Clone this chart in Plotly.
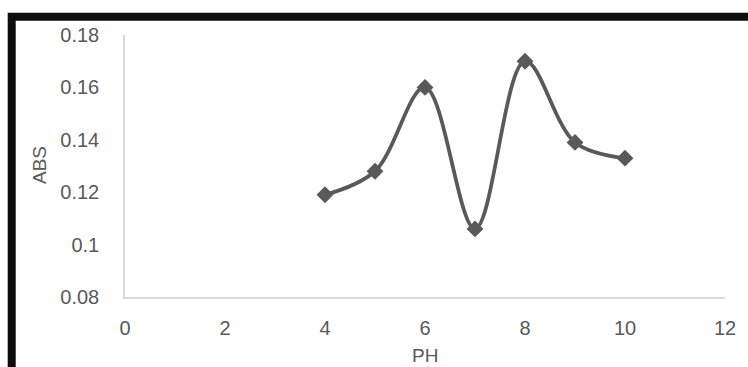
import plotly.graph_objects as go

ph = [4, 5, 6, 7, 8, 9, 10]
abs_vals = [0.119, 0.128, 0.160, 0.106, 0.170, 0.139, 0.133]

x_tick_vals = [0, 2, 4, 6, 8, 10, 12]
x_tick_text = ["0", "2", "4", "6", "8", "10", "12"]
y_tick_vals = [0.08, 0.10, 0.12, 0.14, 0.16, 0.18]
y_tick_text = ["0.08", "0.1", "0.12", "0.14", "0.16", "0.18"]

W, H = 748, 367
L, R, T, B = 125, 23, 35, 70
pw, ph_ = W - L - R, H - T - B

def px_x(px):
    return (px - L) / pw

def px_y(py):
    return (H - B - py) / ph_

font_family = "Liberation Sans, Arial, sans-serif"
txt_col = "#595959"

fig = go.Figure()
fig.add_trace(go.Scatter(
    x=ph, y=abs_vals, mode="lines+markers",
    line=dict(color="#595959", width=3.75, shape="spline", smoothing=1.0),
    marker=dict(symbol="diamond", size=13, color="#595959"),
    showlegend=False, cliponaxis=False,
))

fig.update_layout(
    width=W, height=H,
    margin=dict(l=L, r=R, t=T, b=B),
    paper_bgcolor="white", plot_bgcolor="white",
    font=dict(family=font_family, size=20, color=txt_col),
    xaxis=dict(range=[0, 12], tickvals=x_tick_vals, ticktext=x_tick_text,
               showgrid=False, zeroline=False, showline=True,
               linecolor="#d9d9d9", linewidth=1.5, ticks="",
               ticklabelstandoff=12, fixedrange=True),
    yaxis=dict(range=[0.08, 0.18], tickvals=y_tick_vals, ticktext=y_tick_text,
               showgrid=False, zeroline=False, showline=True,
               linecolor="#d9d9d9", linewidth=1.5, ticks="",
               ticklabelstandoff=20, fixedrange=True),
    annotations=[
        dict(text="ABS", x=px_x(39), y=px_y(165), xref="paper", yref="paper",
             showarrow=False, textangle=-90, xanchor="center", yanchor="middle",
             font=dict(size=19, color=txt_col, family=font_family)),
        dict(text="PH", x=px_x(425), y=px_y(355), xref="paper", yref="paper",
             showarrow=False, xanchor="center", yanchor="middle",
             font=dict(size=19, color=txt_col, family=font_family)),
    ],
    shapes=[
        dict(type="rect", xref="paper", yref="paper",
             x0=px_x(11.7), x1=px_x(800), y0=px_y(16.7), y1=px_y(450),
             line=dict(color="#0d0d0d", width=8), fillcolor="rgba(0,0,0,0)",
             layer="above"),
    ],
)

fig.write_html("out.html")
